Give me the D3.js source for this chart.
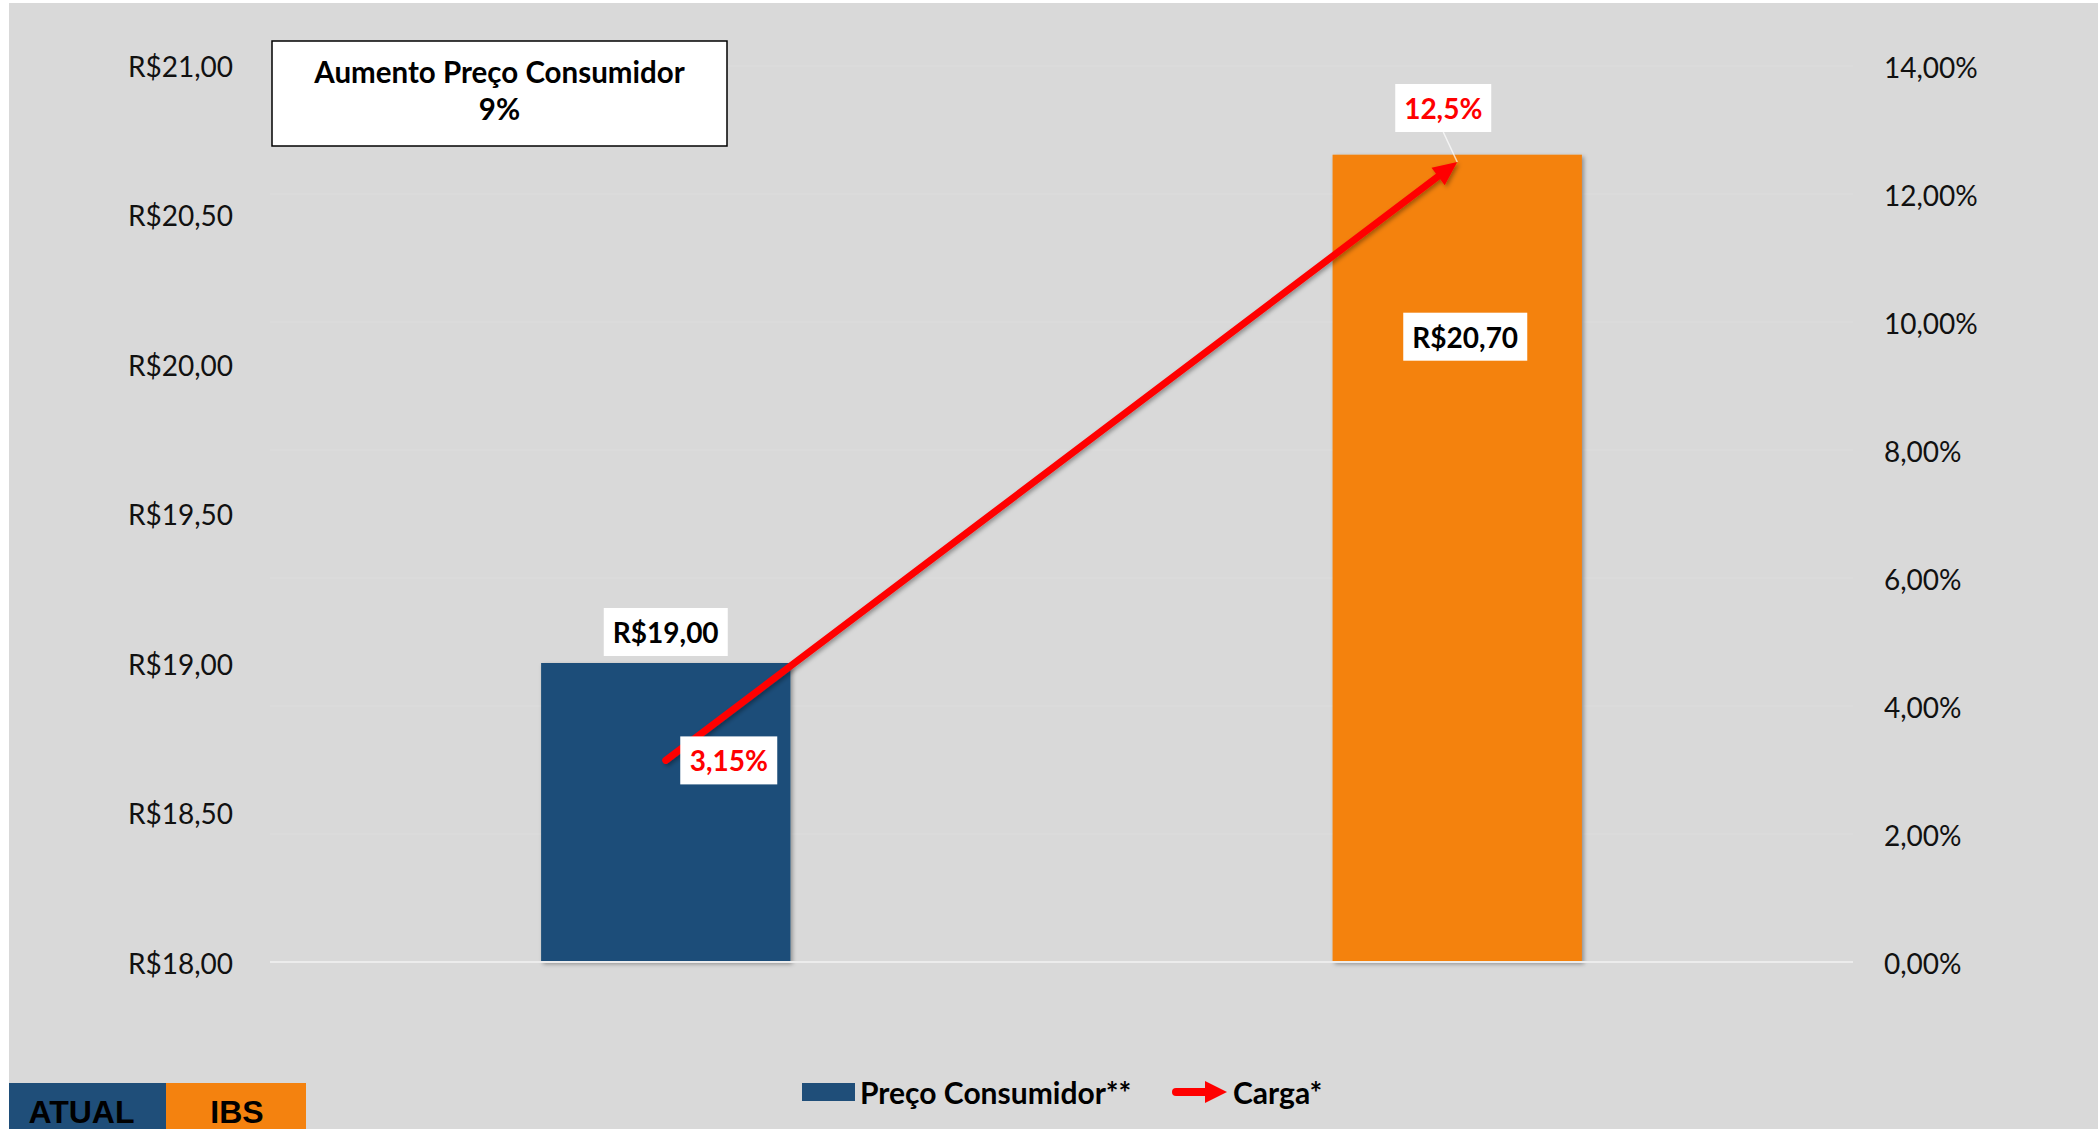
<!DOCTYPE html>
<html>
<head>
<meta charset="utf-8">
<script src="https://cdn.jsdelivr.net/npm/d3@7"></script>
<style>
  html, body { margin: 0; padding: 0; background: #ffffff; }
  svg { display: block; }
</style>
</head>
<body>
<script>
// ---------- DATA ----------
const categories = ["ATUAL", "IBS"];
const precoConsumidor = [19.00, 20.70];
const carga = [3.15, 12.5];
const cargaLabels = ["3,15%", "12,5%"];
const precoTicks = [18, 18.5, 19, 19.5, 20, 20.5, 21];
const cargaTicks = [0, 2, 4, 6, 8, 10, 12, 14];
const tituloLinhas = ["Aumento Preço Consumidor", "9%"];
const legendaSeries = ["Preço Consumidor**", "Carga*"];

// ---------- SETUP ----------
const W = 2098, H = 1129;
const colors = { blue: "#1f4e79", orange: "#f4820f", red: "#ff0000", bg: "#d9d9d9" };
const FONT = "Lato, 'Open Sans', 'DejaVu Sans', sans-serif";

const locale = d3.formatLocale({ decimal: ",", thousands: ".", grouping: [3], currency: ["R$", ""] });
const fmtBRL = locale.format("$.2f");
const fmtPct = v => locale.format(".2f")(v) + "%";

const svg = d3.select("body").append("svg").attr("width", W).attr("height", H);

const defs = svg.append("defs");
const f = defs.append("filter").attr("id", "shadow").attr("x", "-20%").attr("y", "-20%").attr("width", "140%").attr("height", "140%");
f.append("feDropShadow").attr("dx", 2).attr("dy", 2).attr("stdDeviation", 2).attr("flood-color", "#000").attr("flood-opacity", 0.35);

svg.append("rect").attr("x", 9).attr("y", 3).attr("width", W - 9).attr("height", H - 3).attr("fill", colors.bg);

const x = d3.scalePoint().domain(categories).range([270, 1853]).padding(0.5);
const yL = d3.scaleLinear().domain([18, 21]).range([962, 65]);
const yR = d3.scaleLinear().domain([0, 14]).range([962, 66]);
const barW = x.step() * 0.315;

// faint gridlines
svg.append("g").selectAll("line").data(cargaTicks.slice(1)).join("line")
  .attr("x1", 270).attr("x2", 1853)
  .attr("y1", d => yR(d)).attr("y2", d => yR(d))
  .attr("stroke", "#dddddd").attr("stroke-width", 1);

// axes
const axL = svg.append("g").attr("transform", "translate(270,0)")
  .call(d3.axisLeft(yL).tickValues(precoTicks).tickFormat(fmtBRL).tickSize(0).tickPadding(37));
const axR = svg.append("g").attr("transform", "translate(1853,0)")
  .call(d3.axisRight(yR).tickValues(cargaTicks).tickFormat(fmtPct).tickSize(0).tickPadding(31));
[axL, axR].forEach(a => {
  a.select(".domain").remove();
  a.selectAll("text").attr("font-family", FONT).attr("font-size", 28).attr("fill", "#111").attr("dy", "0.4em");
});

// bars
svg.append("g").selectAll("rect").data(categories).join("rect")
  .attr("x", d => x(d) - barW / 2)
  .attr("width", barW)
  .attr("y", (d, i) => yL(precoConsumidor[i]))
  .attr("height", (d, i) => yL(18) - yL(precoConsumidor[i]))
  .attr("fill", (d, i) => i === 0 ? colors.blue : colors.orange)
  .attr("filter", "url(#shadow)");

// baseline
svg.append("line").attr("x1", 270).attr("x2", 1853).attr("y1", yL(18)).attr("y2", yL(18))
  .attr("stroke", "#ececec").attr("stroke-width", 2);

// ---- carga arrow ----
const p0 = [x(categories[0]), yR(carga[0])];
const p1 = [x(categories[1]), yR(carga[1])];
const ang = Math.atan2(p1[1] - p0[1], p1[0] - p0[0]);
const headL = 24, headW = 22;
const base = [p1[0] - headL * Math.cos(ang), p1[1] - headL * Math.sin(ang)];
const lineEnd = [p1[0] - (headL - 4) * Math.cos(ang), p1[1] - (headL - 4) * Math.sin(ang)];
const gArrow = svg.append("g").attr("filter", "url(#shadow)");
gArrow.append("path").attr("d", d3.line()([p0, lineEnd]))
  .attr("stroke", colors.red).attr("stroke-width", 7).attr("stroke-linecap", "round").attr("fill", "none");
const nx = -Math.sin(ang), ny = Math.cos(ang);
gArrow.append("path").attr("d", d3.line()([
  p1,
  [base[0] + nx * headW / 2, base[1] + ny * headW / 2],
  [base[0] - nx * headW / 2, base[1] - ny * headW / 2]
]) + "Z").attr("fill", colors.red);

// ---- labels ----
function labelBox(cx, cy, w, h, text, color) {
  const g = svg.append("g");
  g.append("rect").attr("x", cx - w / 2).attr("y", cy - h / 2).attr("width", w).attr("height", h).attr("fill", "#fff");
  g.append("text").attr("x", cx).attr("y", cy).attr("text-anchor", "middle").attr("dominant-baseline", "central")
    .attr("font-family", FONT).attr("font-weight", 700).attr("font-size", 28).attr("fill", color).text(text);
}
// bar labels
labelBox(x(categories[0]), yL(precoConsumidor[0]) - 31, 124, 48, fmtBRL(precoConsumidor[0]), "#000");
labelBox(x(categories[1]) + 8, yL(precoConsumidor[1]) + 182, 124, 48, fmtBRL(precoConsumidor[1]), "#000");
// leader line for 12,5%
svg.append("line").attr("x1", p1[0] - 14).attr("y1", p1[1] - 30).attr("x2", p1[0]).attr("y2", p1[1])
  .attr("stroke", "#ffffff").attr("stroke-opacity", 0.7).attr("stroke-width", 1.5);
labelBox(p0[0] + 63, p0[1], 97, 48, cargaLabels[0], colors.red);
labelBox(p1[0] - 14, p1[1] - 54, 96, 48, cargaLabels[1], colors.red);

// ---- title box ----
svg.append("rect").attr("x", 272).attr("y", 41).attr("width", 455).attr("height", 105)
  .attr("fill", "#fff").attr("stroke", "#000").attr("stroke-width", 1.5);
svg.append("g").selectAll("text").data(tituloLinhas).join("text")
  .attr("x", 499.5).attr("y", (d, i) => 71 + i * 37)
  .attr("text-anchor", "middle").attr("dominant-baseline", "central")
  .attr("font-family", FONT).attr("font-weight", 700).attr("font-size", 29.5).attr("fill", "#000")
  .text(d => d);

// ---- legend ----
const lg = svg.append("g");
lg.append("rect").attr("x", 802).attr("y", 1083).attr("width", 53).attr("height", 18).attr("fill", colors.blue);
lg.append("text").attr("x", 860).attr("y", 1092).attr("dominant-baseline", "central")
  .attr("font-family", FONT).attr("font-weight", 700).attr("font-size", 30).attr("fill", "#000").text(legendaSeries[0]);
lg.append("path").attr("d", d3.line()([[1176, 1092], [1208, 1092]]))
  .attr("stroke", colors.red).attr("stroke-width", 8).attr("stroke-linecap", "round");
lg.append("path").attr("d", d3.line()([[1227, 1092], [1205, 1081], [1205, 1103]]) + "Z").attr("fill", colors.red);
lg.append("text").attr("x", 1233).attr("y", 1092).attr("dominant-baseline", "central")
  .attr("font-family", FONT).attr("font-weight", 700).attr("font-size", 30).attr("fill", "#000").text(legendaSeries[1]);

// ---- category tabs bottom-left ----
const tabs = [{ x0: 9, x1: 166, cx: 81.5, c: colors.blue }, { x0: 166, x1: 306, cx: 237, c: colors.orange }];
const tg = svg.append("g");
categories.forEach((cat, i) => {
  tg.append("rect").attr("x", tabs[i].x0).attr("y", 1083).attr("width", tabs[i].x1 - tabs[i].x0).attr("height", H - 1083).attr("fill", tabs[i].c);
  tg.append("text").attr("x", tabs[i].cx).attr("y", 1123)
    .attr("text-anchor", "middle").attr("font-family", "'Liberation Sans', Arial, sans-serif")
    .attr("font-weight", 700).attr("font-size", 32).attr("fill", "#000").text(cat);
});
</script>
</body>
</html>
